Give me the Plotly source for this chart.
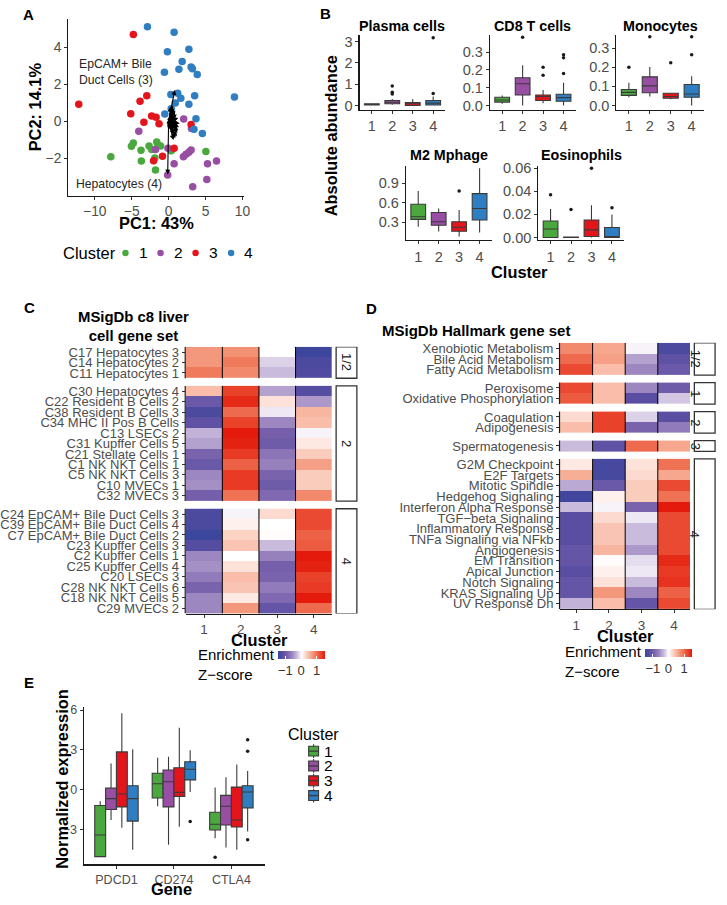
import plotly.graph_objects as go

W, H = 727, 905
def px(x): return x / W
def py(y): return 1 - y / H

FONT = "Liberation Sans, Arial, Helvetica, sans-serif"
TICK = "#4d4d4d"
INK = "#1a1a1a"
BOXLINE = "#3a3a3a"
clusters = ["1", "2", "3", "4"]
cluster_colors = ["#4aa83e", "#984ea3", "#e3141b", "#2f7ec1"]

# ---------------- Panel A: PCA ----------------
pc1_c1 = [-7.83, -5.04, -4.78, -3.74, -3.70, -2.65, -2.30, -1.61, -1.43, -1.09, -1.87, -1.78, 5.04, 0.35]
pc2_c1 = [-1.90, -1.33, -1.16, -1.55, -2.13, -1.32, -1.51, -1.10, -1.28, -1.32, -1.97, -2.61, -1.62, -1.58]
pc1_c2 = [-4.04, -1.78, -0.09, -0.13, 0.74, 2.00, 2.35, 2.74, 3.04, 5.26, 6.48, 5.17, 3.26, 2.04, 3.09]
pc2_c2 = [-0.52, -1.51, -1.44, -2.88, -2.28, -1.90, -1.76, -1.65, -1.53, -2.28, -2.13, -3.13, -3.52, 0.14, -0.37]
pc1_c3 = [-4.78, -12.17, -2.96, -3.87, -5.13, -3.35, -2.30, -1.70, -1.30, 3.04, 0.74, -0.83, -2.04, 0.30]
pc2_c3 = [4.71, 0.94, 1.40, 1.10, 0.43, -0.04, 0.30, 0.23, -0.12, -0.16, -1.44, -1.87, -2.12, -0.20]
pc1_c4 = [-2.87, 0.74, -0.17, 2.74, 1.83, 1.39, 3.04, 3.22, 3.87, -0.57, 0.30, 1.22, 1.65, 3.52, 2.74, 8.91, -0.52, 3.70, 3.43, 4.57, 0.35, 0.90]
pc2_c4 = [5.12, 4.82, 3.77, 3.91, 3.25, 2.83, 2.95, 2.86, 2.54, 2.67, 1.46, 1.53, 1.26, 1.39, 0.94, 1.33, 0.41, 0.16, -0.41, -0.64, 0.69, 1.00]
load_pc1 = [0.83, -0.13, 0.30, 0.50, 0.70, 0.90, 1.10, 1.30, 1.50, 0.40, 0.60, 0.80, 1.00, 1.20, 1.40, 0.50, 0.70, 0.90, 1.10, 1.30, 0.60, 0.80, 1.00, 0.45, 0.95, 1.25, 0.35, 0.65]
load_pc2 = [1.71, -2.86, 0.80, 0.90, 0.70, 0.60, 0.40, 0.20, -0.10, 0.30, 0.10, -0.20, -0.40, -0.60, -0.30, -0.50, -0.70, -0.90, -0.80, -0.50, 0.50, 0.30, 0.00, -0.10, 0.20, -0.20, -0.30, -1.00]

# ---------------- Panel B: abundance boxplots [lower, q1, median, q3, upper] per cluster ----------------
cell_types = ["Plasma cells", "CD8 T cells", "Monocytes", "M2 Mphage", "Eosinophils"]
plasma_stats = [[0.01, 0.02, 0.05, 0.08, 0.10], [0.03, 0.08, 0.15, 0.23, 0.30], [0.0, 0.0, 0.08, 0.14, 0.29], [0.0, 0.02, 0.11, 0.23, 0.42]]
plasma_out = [[], [0.91, 0.62, 0.54], [], [0.56, 3.17]]
cd8_stats = [[0.009, 0.019, 0.031, 0.046, 0.056], [0.0, 0.059, 0.122, 0.156, 0.226], [0.013, 0.028, 0.050, 0.059, 0.087], [0.0, 0.024, 0.044, 0.063, 0.128]]
cd8_out = [[], [0.383], [0.215, 0.17], [0.285, 0.268, 0.18]]
mono_stats = [[0.043, 0.053, 0.069, 0.084, 0.119], [0.047, 0.067, 0.103, 0.150, 0.202], [0.033, 0.038, 0.047, 0.064, 0.067], [0.0, 0.043, 0.060, 0.110, 0.153]]
mono_out = [[0.20], [0.36], [0.224], [0.36, 0.266]]
m2_stats = [[0.234, 0.345, 0.386, 0.577, 0.779], [0.159, 0.255, 0.310, 0.451, 0.512], [0.083, 0.164, 0.224, 0.310, 0.487], [0.144, 0.335, 0.512, 0.739, 1.127]]
m2_out = [[], [], [0.779], []]
eos_stats = [[0.0, 0.0, 0.0074, 0.0143, 0.0246], [0.0, 0.0, 0.0, 0.0004, 0.0004], [0.0, 0.0009, 0.0066, 0.0151, 0.028], [0.0, 0.0, 0.0009, 0.0086, 0.020]]
eos_out = [[0.0371], [0.0243], [0.060], [0.0257]]

# ---------------- Panel C: MSigDb c8 heatmap ----------------
c8_labels = ["C17 Hepatocytes 3", "C14 Hepatocytes 2", "C11 Hepatocytes 1",
             "C30 Hepatocytes 4", "C22 Resident B Cells 2", "C38 Resident B Cells 3", "C34 MHC II Pos B Cells",
             "C13 LSECs 2", "C31 Kupffer Cells 5", "C21 Stellate Cells 1", "C1 NK NKT Cells 1",
             "C5 NK NKT Cells 3", "C10 MVECs 1", "C32 MVECs 3",
             "C24 EpCAM+ Bile Duct Cells 3", "C39 EpCAM+ Bile Duct Cells 4", "C7 EpCAM+ Bile Duct Cells 2",
             "C23 Kupffer Cells 3", "C2 Kupffer Cells 1", "C25 Kupffer Cells 4", "C20 LSECs 3",
             "C28 NK NKT Cells 6", "C18 NK NKT Cells 5", "C29 MVECs 2"]
c8_group = ["1/2"] * 3 + ["2"] * 11 + ["4"] * 10
c8_z = [[0.70, 0.75, 0.00, -1.50], [0.70, 0.90, -0.20, -1.35], [0.90, 0.80, -0.30, -1.30],
        [0.45, 1.25, -0.45, -1.25], [-1.05, 1.40, 0.20, -0.50], [-1.35, 1.00, -0.10, 0.50],
        [-1.15, 1.25, -0.60, 0.45], [-0.35, 1.60, -0.95, -0.05], [-0.45, 1.45, -1.00, 0.15],
        [-0.90, 1.30, -0.75, 0.35], [-1.05, 1.05, -0.65, 0.65], [-0.60, 1.30, -0.90, 0.35],
        [-0.55, 1.30, -1.00, 0.35], [-0.95, 0.95, -0.85, 0.80],
        [-1.35, -0.05, 0.25, 1.20], [-1.35, 0.10, 0.00, 1.20], [-1.50, 0.30, 0.02, 1.05],
        [-1.25, 0.40, -0.30, 1.10], [-0.60, 0.00, -0.65, 1.60], [-0.55, 0.20, -0.95, 1.45],
        [-0.70, 0.45, -0.90, 1.25], [-0.90, 0.40, -0.70, 1.30], [-0.60, 0.15, -0.85, 1.50],
        [-0.60, 0.70, -1.10, 1.00]]

# ---------------- Panel D: MSigDb Hallmark heatmap ----------------
hm_labels = ["Xenobiotic Metabolism", "Bile Acid Metabolism", "Fatty Acid Metabolism",
             "Peroxisome", "Oxidative Phosphorylation",
             "Coagulation", "Adipogenesis",
             "Spermatogenesis",
             "G2M Checkpoint", "E2F Targets", "Mitotic Spindle", "Hedgehog Signaling",
             "Interferon Alpha Response", "TGF\u2212beta Signaling", "Inflammatory Response",
             "TNFa Signaling via NFkb", "Angiogenesis", "EM Transition", "Apical Junction",
             "Notch Signaling", "KRAS Signaling Up", "UV Response Dn"]
hm_group = ["1/2"] * 3 + ["1"] * 2 + ["2"] * 2 + ["3"] + ["4"] * 14
hm_z = [[0.80, 0.60, -0.05, -1.35], [1.00, 0.65, -0.45, -1.15], [1.20, 0.45, -0.60, -1.05],
        [1.20, 0.45, -0.60, -1.00], [1.10, 0.45, -1.20, -0.25],
        [0.25, 1.25, -0.20, -1.20], [0.45, 1.25, -0.90, -0.70],
        [-0.30, -1.15, 1.00, 0.60],
        [0.15, -1.40, 0.20, 0.95], [0.55, -1.40, 0.25, 0.60], [-0.40, -1.05, 0.35, 1.20],
        [-1.45, 0.10, 0.35, 0.95], [-0.30, -0.05, -0.90, 1.50], [-1.20, 0.25, -0.10, 1.20],
        [-1.20, 0.40, -0.30, 1.20], [-1.20, 0.40, -0.30, 1.20], [-1.10, 0.50, -0.50, 1.20],
        [-1.10, 0.02, -0.15, 1.40], [-1.20, 0.10, -0.10, 1.30], [-1.10, 0.20, -0.30, 1.35],
        [-1.10, 0.70, -0.60, 1.05], [-0.35, 0.45, -1.10, 1.20]]

# ---------------- Panel E: checkpoint genes ----------------
genes = ["PDCD1", "CD274", "CTLA4"]
pdcd1_stats = [[-5.03, -5.03, -3.40, -1.19, -0.87], [-2.28, -1.49, -0.67, 0.12, 1.98], [-2.85, -1.29, -0.32, 2.85, 5.75], [-4.51, -2.36, -0.67, 0.30, 3.05]]
cd274_stats = [[-1.24, -0.62, 0.45, 1.24, 2.40], [-4.14, -1.29, 0.60, 1.49, 2.48], [-2.78, -0.50, -0.20, 1.66, 4.66], [-0.17, 0.74, 1.54, 2.11, 2.98]]
ctla4_stats = [[-3.64, -3.03, -2.60, -1.69, 0.17], [-4.34, -2.65, -1.24, -0.42, 0.94], [-4.51, -2.80, -2.28, 0.20, 1.91], [-3.15, -1.36, -0.17, 0.30, 1.41]]
pdcd1_out = [[], [], [], []]
cd274_out = [[], [], [], [-2.38]]
ctla4_out = [[-5.08], [], [], [3.77, 2.90, -3.77]]

# ======================================================================
fig = go.Figure()
shapes, annotations = [], []

# --- Panel A traces
pcs = [(pc1_c1, pc2_c1), (pc1_c2, pc2_c2), (pc1_c3, pc2_c3), (pc1_c4, pc2_c4)]
for (xs, ys), name, col in zip(pcs, clusters, cluster_colors):
    fig.add_trace(go.Scatter(x=xs, y=ys, mode="markers", name=name, showlegend=False,
                             marker=dict(color=col, size=7.5), xaxis="x", yaxis="y", hoverinfo="skip"))

# --- Panel B traces
b_sets = [(plasma_stats, plasma_out), (cd8_stats, cd8_out), (mono_stats, mono_out),
          (m2_stats, m2_out), (eos_stats, eos_out)]
for k, (stats, outs) in enumerate(b_sets):
    xa, ya = "x%d" % (k + 2), "y%d" % (k + 2)
    for ci, (st, col) in enumerate(zip(stats, cluster_colors)):
        fig.add_trace(go.Box(x=[ci + 1], lowerfence=[st[0]], q1=[st[1]], median=[st[2]], q3=[st[3]],
                             upperfence=[st[4]], orientation="v", width=0.72, whiskerwidth=0,
                             fillcolor=col, line=dict(color=BOXLINE, width=1.1), boxpoints=False,
                             showlegend=False, xaxis=xa, yaxis=ya, hoverinfo="skip"))
        if outs[ci]:
            fig.add_trace(go.Scatter(x=[ci + 1] * len(outs[ci]), y=outs[ci], mode="markers",
                                     marker=dict(color=INK, size=3.5), showlegend=False,
                                     xaxis=xa, yaxis=ya, hoverinfo="skip"))

# --- Heatmap helpers
def row_layout(groups, gap):
    pos, spans, cur, prev = [], [], 0.0, None
    for g in groups:
        if prev is not None and g != prev:
            cur += gap
        if g != prev:
            spans.append([g, cur - 0.5, cur + 0.5])
        else:
            spans[-1][2] = cur + 0.5
        pos.append(cur)
        cur += 1
        prev = g
    return pos, spans

colorscale = [[0.0, "#3c469c"], [0.1, "#5a4ea2"], [0.2, "#7a63ad"], [0.3, "#9d87c0"],
              [0.4, "#c9bbdc"], [0.5, "#ffffff"], [0.6, "#fbd3c5"], [0.7, "#f6a78e"],
              [0.8, "#f07a5c"], [0.9, "#ea4a31"], [1.0, "#e31a0c"]]

def add_heatmap(groups, zrows, gap, xa, ya, cax, strip_x0, strip_x1, left_px):
    pos, spans = row_layout(groups, gap)
    i = 0
    for g, top, bot in spans:
        n = int(round(bot - top))
        edges = [top + j for j in range(n + 1)]
        fig.add_trace(go.Heatmap(x=[0.5, 1.5, 2.5, 3.5, 4.5], y=edges, z=zrows[i:i + n],
                                 coloraxis=cax, xaxis=xa, yaxis=ya, hoverinfo="skip"))
        i += n
        shapes.append(dict(type="line", xref="paper", yref=ya, x0=px(left_px), x1=px(left_px),
                           y0=top, y1=bot, line=dict(color=INK, width=1.2)))
        for xs in (1.5, 2.5, 3.5):
            shapes.append(dict(type="line", xref=xa, yref=ya, x0=xs, x1=xs, y0=top, y1=bot,
                               line=dict(color="black", width=1)))
        shapes.append(dict(type="rect", xref="paper", yref=ya, x0=px(strip_x0), x1=px(strip_x1),
                           y0=top, y1=bot, line=dict(color="#333333", width=1.3), fillcolor="white"))
        annotations.append(dict(xref="paper", yref=ya, x=px((strip_x0 + strip_x1) / 2), y=(top + bot) / 2,
                                text=g, showarrow=False, textangle=90,
                                font=dict(family=FONT, size=13, color=INK)))
    return pos, spans

c8_pos, c8_spans = add_heatmap(c8_group, c8_z, 0.73, "x7", "y7", "coloraxis", 337.3, 358.3, 184.5)
hm_pos, hm_spans = add_heatmap(hm_group, hm_z, 0.70, "x8", "y8", "coloraxis2", 700.0, 721.0, 563.5)

# --- Panel E traces
offsets = [-0.283, -0.094, 0.094, 0.283]
e_stats = [pdcd1_stats, cd274_stats, ctla4_stats]
e_outs = [pdcd1_out, cd274_out, ctla4_out]
for ci, (name, col) in enumerate(zip(clusters, cluster_colors)):
    xs = [gi + 1 + offsets[ci] for gi in range(len(genes))]
    fig.add_trace(go.Box(x=xs, lowerfence=[s[ci][0] for s in e_stats], q1=[s[ci][1] for s in e_stats],
                         median=[s[ci][2] for s in e_stats], q3=[s[ci][3] for s in e_stats],
                         upperfence=[s[ci][4] for s in e_stats], orientation="v", width=0.19,
                         whiskerwidth=0, fillcolor=col, line=dict(color=BOXLINE, width=1.1),
                         boxpoints=False, name=name, showlegend=False, xaxis="x9", yaxis="y9",
                         hoverinfo="skip"))
    ox, oy = [], []
    for gi, o in enumerate(e_outs):
        ox += [gi + 1 + offsets[ci]] * len(o[ci])
        oy += o[ci]
    if ox:
        fig.add_trace(go.Scatter(x=ox, y=oy, mode="markers", marker=dict(color=INK, size=3.5),
                                 showlegend=False, xaxis="x9", yaxis="y9", hoverinfo="skip"))

# --- Panel A loadings arrows
for lx, ly in zip(load_pc1, load_pc2):
    annotations.append(dict(x=lx, y=ly, ax=0, ay=0, xref="x", yref="y", axref="x", ayref="y",
                            text="", showarrow=True, arrowhead=2, arrowsize=0.9, arrowwidth=1.1,
                            arrowcolor="black", standoff=0, startstandoff=0))

# --- Axes
def axis(domain, rng, size=14, **kw):
    d = dict(domain=domain, range=rng, showline=True, linecolor=INK, linewidth=1.1, ticks="outside",
             ticklen=3, tickwidth=1, tickcolor="#333333", showgrid=False, zeroline=False,
             tickfont=dict(family=FONT, size=size, color=TICK), fixedrange=True)
    d.update(kw)
    return d

layout_axes = {}
layout_axes["xaxis"] = axis([px(66), px(244)], [-13.6, 10.2], 13.8, tickvals=[-10, -5, 0, 5, 10], anchor="y")
layout_axes["yaxis"] = axis([py(192), py(13)], [-4.0, 5.55], 13.8, tickvals=[-2, 0, 2, 4], anchor="x")

b_xdom = [(361, 448), (493, 580), (621, 710), (408, 495), (542, 629)]
b_ydom = [(29, 105), (29, 105), (29, 105), (162, 237), (162, 237)]
b_yrng = [[-0.2, 3.32], [-0.024, 0.398], [-0.022, 0.371], [0.028, 1.161], [-0.0023, 0.062]]
b_ticks = [[0, 1, 2, 3], [0, 0.1, 0.2, 0.3], [0, 0.1, 0.2, 0.3], [0.3, 0.6, 0.9], [0, 0.02, 0.04, 0.06]]
b_tickfmt = ["d", ".1f", ".1f", ".1f", ".2f"]
for k in range(5):
    n = k + 2
    layout_axes["xaxis%d" % n] = axis([px(b_xdom[k][0]), px(b_xdom[k][1])], [0.4, 4.6], 14.5,
                                      tickvals=[1, 2, 3, 4], ticktext=clusters, anchor="y%d" % n)
    layout_axes["yaxis%d" % n] = axis([py(b_ydom[k][1]), py(b_ydom[k][0])], b_yrng[k], 14.5,
                                      tickvals=b_ticks[k], tickformat=b_tickfmt[k], anchor="x%d" % n)

c8_bottom = c8_spans[-1][2]
hm_bottom = hm_spans[-1][2]
layout_axes["xaxis7"] = axis([px(185), px(333.3)], [0.5, 4.5], 13.5, tickvals=[1, 2, 3, 4], ticktext=clusters,
                             anchor="y7")
layout_axes["yaxis7"] = axis([py(615), py(345)], [c8_bottom, -0.5], 13, tickvals=c8_pos, ticktext=c8_labels,
                             anchor="x7", showline=False)
layout_axes["xaxis8"] = axis([px(564), px(696)], [0.5, 4.5], 13.5, tickvals=[1, 2, 3, 4], ticktext=clusters,
                             anchor="y8")
layout_axes["yaxis8"] = axis([py(610.7), py(341)], [hm_bottom, -0.5], 13, tickvals=hm_pos, ticktext=hm_labels,
                             anchor="x8", showline=False)

layout_axes["xaxis9"] = axis([px(81.7), px(265)], [0.43, 3.58], 12.5, tickvals=[1, 2, 3], ticktext=genes,
                             anchor="y9")
layout_axes["yaxis9"] = axis([py(869), py(710)], [-5.62, 6.2], 12.5, tickvals=[-3, 0, 3, 6], anchor="x9")

# --- Text annotations
def txt(x, y, s, size=14, bold=False, angle=0, xanchor="center", color="black", align="center"):
    annotations.append(dict(xref="paper", yref="paper", x=px(x), y=py(y), text=("<b>%s</b>" % s) if bold else s,
                            showarrow=False, textangle=angle, xanchor=xanchor, yanchor="middle", align=align,
                            font=dict(family=FONT, size=size, color=color)))

for letter, (lx, ly) in zip("ABCDE", [(26, 9), (327, 8), (27, 305), (373, 306), (26, 685)]):
    txt(lx, ly, letter, size=15, bold=True)

TITLE = 16.4
txt(155, 220, "PC1: 43%", size=TITLE, bold=True)
txt(32, 102, "PC2: 14.1%", size=TITLE, bold=True, angle=-90)
annotations.append(dict(xref="x", yref="y", x=-12.4, y=2.66, text="EpCAM+ Bile<br>Duct Cells (3)",
                        showarrow=False, xanchor="left", yanchor="middle", align="left",
                        font=dict(family=FONT, size=12.2, color="#262626")))
annotations.append(dict(xref="x", yref="y", x=-12.75, y=-3.37, text="Hepatocytes (4)",
                        showarrow=False, xanchor="left", yanchor="middle",
                        font=dict(family=FONT, size=12.2, color="#262626")))

# Panel A legend (Cluster key)
txt(59, 250, "Cluster", size=16.5, xanchor="left")
a_key_x = [124, 159.5, 195, 231]
for kx, name, col in zip(a_key_x, clusters, cluster_colors):
    shapes.append(dict(type="circle", xref="paper", yref="paper", x0=px(kx - 3.3), x1=px(kx + 3.3),
                       y0=py(250 + 3.3), y1=py(250 - 3.3), fillcolor=col, line=dict(width=0)))
    txt(kx + 18, 250, name, size=15.5)

b_title_y = [20, 20, 20, 151, 151]
for k, name in enumerate(cell_types):
    txt((b_xdom[k][0] + b_xdom[k][1]) / 2, b_title_y[k], name, size=14.3, bold=True)
txt(333, 131, "Absolute abundance", size=TITLE, bold=True, angle=-90)
txt(523, 269, "Cluster", size=TITLE, bold=True)

txt(131.7, 324, "MSigDb c8 liver<br>cell gene set", size=14.9, bold=True)
txt(259.5, 642, "Cluster", size=TITLE, bold=True)
txt(195, 667, "Enrichment<br>Z\u2212score", size=15, xanchor="left", align="left")

txt(381.7, 328, "MSigDb Hallmark gene set", size=15, bold=True, xanchor="left")
txt(630.7, 638, "Cluster", size=TITLE, bold=True)
txt(566.7, 664, "Enrichment<br>Z\u2212score", size=15, xanchor="left", align="left")

txt(60, 783, "Normalized expression", size=TITLE, bold=True, angle=-90)
txt(170.7, 894, "Gene", size=TITLE, bold=True)

# Panel E legend (Cluster key with boxplot glyphs)
txt(287, 737, "Cluster", size=16, xanchor="left")
for i, (name, col) in enumerate(zip(clusters, cluster_colors)):
    cy = 754.3 + 15 * i
    shapes.append(dict(type="line", xref="paper", yref="paper", x0=px(314.5), x1=px(314.5),
                       y0=py(cy - 7), y1=py(cy + 7), line=dict(color=BOXLINE, width=1.1)))
    shapes.append(dict(type="rect", xref="paper", yref="paper", x0=px(309.5), x1=px(319.5),
                       y0=py(cy + 5), y1=py(cy - 5), fillcolor=col, line=dict(color=BOXLINE, width=1.1)))
    shapes.append(dict(type="line", xref="paper", yref="paper", x0=px(309.5), x1=px(319.5),
                       y0=py(cy), y1=py(cy), line=dict(color=BOXLINE, width=1.3)))
    txt(330, cy, name, size=15.5)

cbar_common = dict(orientation="h", xanchor="left", yanchor="top", lenmode="pixels", len=47,
                   thickness=8, tickvals=[-1, 0, 1], ticks="inside", ticklen=3, tickcolor="white",
                   tickangle=0, outlinewidth=0, xpad=0, ypad=0,
                   tickfont=dict(family=FONT, size=13, color="#333333"))

fig.update_layout(
    width=W, height=H, autosize=False,
    margin=dict(l=0, r=0, t=0, b=0),
    paper_bgcolor="white", plot_bgcolor="white",
    font=dict(family=FONT, color="black"),
    shapes=shapes, annotations=annotations,
    coloraxis=dict(colorscale=colorscale, cmin=-1.5, cmax=1.5,
                   colorbar=dict(x=px(278), y=py(652.5), **cbar_common)),
    coloraxis2=dict(colorscale=colorscale, cmin=-1.5, cmax=1.5,
                    colorbar=dict(x=px(650), y=py(650.5), **cbar_common)),
    showlegend=False,
    **layout_axes
)

fig.write_html("out.html", config={"displayModeBar": False, "staticPlot": True},
               post_script="document.body.style.margin='0px';document.body.style.overflow='hidden';")
